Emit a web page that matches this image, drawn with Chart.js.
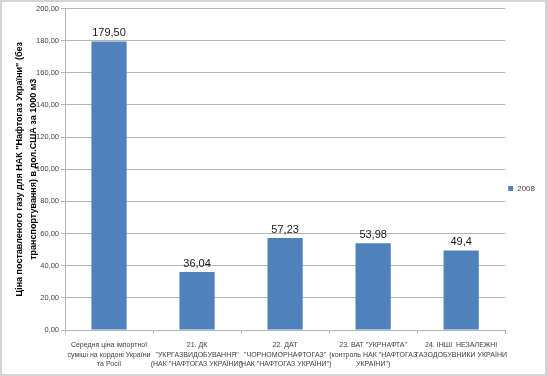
<!DOCTYPE html>
<html>
<head>
<meta charset="utf-8">
<script src="https://cdn.jsdelivr.net/npm/chart.js@4/dist/chart.umd.min.js"></script>
<style>
  html, body { margin: 0; padding: 0; background: #ffffff; }
  #frame {
    width: 547px; height: 376px; box-sizing: border-box;
    border: 2px solid #d4d4d4; background: #ffffff; position: relative;
  }
  #chart { display: block; }
</style>
</head>
<body>
<div id="frame"><canvas id="chart" width="543" height="372"></canvas></div>
<script>
// Categories (multi-line labels as shown under the bars)
const categories = [
  ["Середня ціна імпортної", "суміші на кордоні України", "та Росії"],
  ["21. ДК", "\"УКРГАЗВИДОБУВАННЯ\"", "(НАК \"НАФТОГАЗ УКРАЇНИ\")"],
  ["22. ДАТ", "\"ЧОРНОМОРНАФТОГАЗ\"", "(НАК \"НАФТОГАЗ УКРАЇНИ\")"],
  ["23. ВАТ \"УКРНАФТА\"", "(контроль НАК \"НАФТОГАЗ", "УКРАЇНИ\")"],
  ["24. ІНШІ  НЕЗАЛЕЖНІ", "ГАЗОДОБУВНИКИ УКРАЇНИ"]
];
const series_name = "2008";
const values_2008 = [179.50, 36.04, 57.23, 53.98, 49.4];
const value_labels = ["179,50", "36,04", "57,23", "53,98", "49,4"];
const y_title = [
  "Ціна поставленого газу для НАК \"Нафтогаз України\" (без",
  "транспортування) в дол.США за 1000 м3"
];

const bar_colour = "#4f81bd";
const grid_colour = "#b4b4b4";
const small_font = "'Liberation Sans', Arial, sans-serif";

// simple value labels above each bar
const barValueLabels = {
  id: "barValueLabels",
  afterDatasetsDraw(chart) {
    const ctx = chart.ctx;
    const meta = chart.getDatasetMeta(0);
    ctx.save();
    ctx.font = "11px 'Liberation Sans', Arial, sans-serif";
    ctx.fillStyle = "#1a1a1a";
    ctx.textAlign = "center";
    ctx.textBaseline = "bottom";
    meta.data.forEach((bar, i) => {
      ctx.fillText(value_labels[i], bar.x, bar.y - 3);
    });
    ctx.restore();
  }
};

new Chart(document.getElementById("chart"), {
  type: "bar",
  data: {
    labels: categories,
    datasets: [{
      label: series_name,
      data: values_2008,
      backgroundColor: bar_colour,
      barPercentage: 0.8,
      categoryPercentage: 0.5
    }]
  },
  options: {
    responsive: false,
    animation: false,
    layout: { padding: { top: 5, right: 0, bottom: 4, left: 10 } },
    scales: {
      x: {
        grid: {
          display: true,
          drawOnChartArea: false,
          offset: true,
          color: grid_colour,
          tickLength: 4
        },
        border: { color: grid_colour },
        ticks: {
          autoSkip: false,
          maxRotation: 0,
          minRotation: 0,
          color: "#404040",
          padding: 6,
          font: { family: small_font, size: 7, lineHeight: 1.4 }
        },
        afterFit(scale) { scale.height = 40; }
      },
      y: {
        min: 0,
        max: 200,
        ticks: {
          stepSize: 20,
          color: "#404040",
          padding: 2,
          font: { family: small_font, size: 7.5 },
          callback: v => v.toFixed(2).replace(".", ",")
        },
        grid: { color: grid_colour, tickLength: 4 },
        border: { color: grid_colour },
        title: {
          display: true,
          text: y_title,
          color: "#000000",
          padding: { top: 0, bottom: 0 },
          font: { family: "'Liberation Sans', Arial, sans-serif", size: 9, weight: "bold", lineHeight: 1.6 }
        },
        afterFit(scale) { scale.width = 53; }
      }
    },
    plugins: {
      legend: {
        position: "right",
        labels: {
          boxWidth: 5,
          boxHeight: 5,
          padding: 3,
          color: "#404040",
          font: { family: small_font, size: 8 }
        }
      },
      tooltip: { enabled: false }
    }
  },
  plugins: [barValueLabels]
});
</script>
</body>
</html>
